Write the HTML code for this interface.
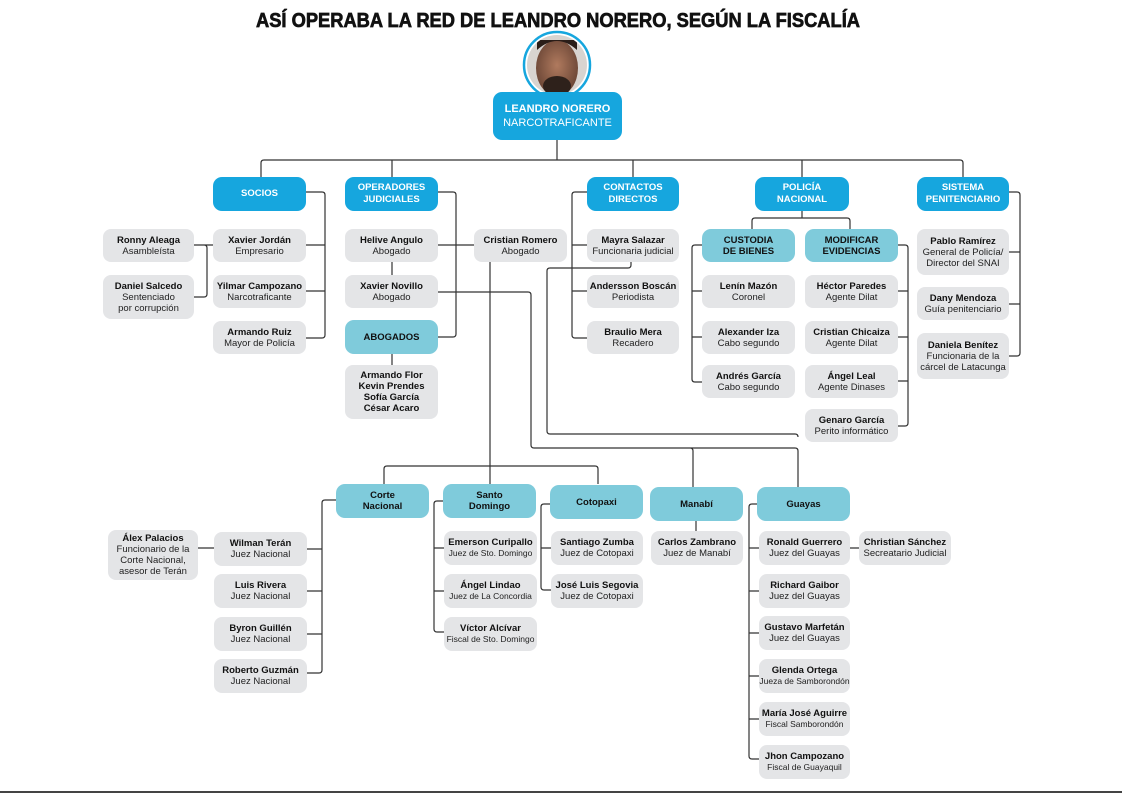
<!DOCTYPE html>
<html><head><meta charset="utf-8">
<style>
*{margin:0;padding:0;box-sizing:border-box}
body{width:1122px;height:794px;background:#fff;position:relative;overflow:hidden;font-family:"Liberation Sans",sans-serif}
.b{position:absolute;display:flex;flex-direction:column;justify-content:center;align-items:center;text-align:center;border-radius:8px;background:#e4e5e7;color:#222;font-size:9.5px;line-height:11px}
.b b{font-weight:bold;color:#111}
.h{background:#16a6de;color:#fff;font-weight:bold;font-size:9.5px;line-height:12px;border-radius:9px}
.t{background:#7fcbdb;color:#111;font-weight:bold;font-size:9.5px;line-height:11px;border-radius:9px}
svg{position:absolute;left:0;top:0}
</style></head><body>
<svg width="1122" height="794" fill="none" stroke="#333" stroke-width="1.2">
<text x="558" y="27" text-anchor="middle" textLength="604" lengthAdjust="spacingAndGlyphs" fill="#111" stroke="#111" stroke-width="0.7" font-family="Liberation Sans" font-weight="bold" font-size="20">ASÍ OPERABA LA RED DE LEANDRO NORERO, SEGÚN LA FISCALÍA</text>
<line x1="0" y1="792" x2="1122" y2="792" stroke="#444" stroke-width="2"/>
<path d="M557 140V160M261 177V163q0-3 3-3H960q3 0 3 3V177M392 160V177M633 160V177M802 160V177"/>
<path d="M306 192H322q3 0 3 3V335q0 3-3 3H306M306 245H325M306 291H325M194 245H213M204 245q3 0 3 3V294q0 3-3 3H194"/>
<path d="M438 192H453q3 0 3 3V334q0 3-3 3H438M392 262V275M392 354V365M438 245H474M438 292H528q3 0 3 3V445q0 3 3 3H795q3 0 3 3V487M690 448q3 0 3 3V487"/>
<path d="M631 262V265q0 3-3 3H550q-3 0-3 3V431q0 3 3 3H795q3 0 3 3"/>
<path d="M490 262V484"/>
<path d="M587 192H575q-3 0-3 3V335q0 3 3 3H587M572 245H587M572 291H587"/>
<path d="M802 211V218M752 229V221q0-3 3-3H847q3 0 3 3V229M702 245H695q-3 0-3 3V379q0 3 3 3H702M692 291H702M692 337H702M898 245H905q3 0 3 3V423q0 3-3 3H898M898 291H908M898 337H908M898 381H908"/>
<path d="M1009 192H1017q3 0 3 3V353q0 3-3 3H1009M1009 252H1020M1009 304H1020"/>
<path d="M384 484V469q0-3 3-3H595q3 0 3 3V484"/>
<path d="M336 500H325q-3 0-3 3V670q0 3-3 3H307M307 549H322M307 591H322M307 634H322M198 548H214"/>
<path d="M443 501H437q-3 0-3 3V629q0 3 3 3H444M434 548H444M434 591H444"/>
<path d="M550 504H544q-3 0-3 3V587q0 3 3 3H551M541 548H551"/>
<path d="M696 521V531"/>
<path d="M757 504H752q-3 0-3 3V756q0 3 3 3H759M749 548H759M749 591H759M749 633H759M749 676H759M749 719H759M850 548H859"/>
<defs><clipPath id="c"><circle cx="557" cy="65" r="30"/></clipPath><radialGradient id="g" cx="50%" cy="45%" r="55%"><stop offset="0" stop-color="#b07a5e"/><stop offset="1" stop-color="#6b4636"/></radialGradient></defs>
<circle cx="557" cy="65" r="33" fill="#fff" stroke="#16a6de" stroke-width="2.5"/>
<g clip-path="url(#c)" stroke="none"><rect x="520" y="30" width="80" height="80" fill="#d8d4d0"/><ellipse cx="557" cy="68" rx="21" ry="28" fill="url(#g)"/><path d="M537 50q20-18 40 0v-10h-40z" fill="#2a1d18"/><ellipse cx="557" cy="86" rx="14" ry="10" fill="#2e211b"/></g>
</svg>
<div class="b h" style="left:493px;top:92px;width:129px;height:48px;font-size:11px;line-height:14px"><span style="font-weight:bold">LEANDRO NORERO</span><span style="font-weight:normal">NARCOTRAFICANTE</span></div>

<div class="b h" style="left:213px;top:177px;width:93px;height:34px">SOCIOS</div>
<div class="b h" style="left:345px;top:177px;width:93px;height:34px">OPERADORES<br>JUDICIALES</div>
<div class="b h" style="left:587px;top:177px;width:92px;height:34px">CONTACTOS<br>DIRECTOS</div>
<div class="b h" style="left:755px;top:177px;width:94px;height:34px">POLICÍA<br>NACIONAL</div>
<div class="b h" style="left:917px;top:177px;width:92px;height:34px">SISTEMA<br>PENITENCIARIO</div>

<div class="b" style="left:103px;top:229px;width:91px;height:33px"><b>Ronny Aleaga</b>Asambleísta</div>
<div class="b" style="left:103px;top:275px;width:91px;height:44px"><b>Daniel Salcedo</b>Sentenciado<br>por corrupción</div>
<div class="b" style="left:213px;top:229px;width:93px;height:33px"><b>Xavier Jordán</b>Empresario</div>
<div class="b" style="left:213px;top:275px;width:93px;height:33px"><b>Yilmar Campozano</b>Narcotraficante</div>
<div class="b" style="left:213px;top:321px;width:93px;height:33px"><b>Armando Ruiz</b>Mayor de Policía</div>

<div class="b" style="left:345px;top:229px;width:93px;height:33px"><b>Helive Angulo</b>Abogado</div>
<div class="b" style="left:345px;top:275px;width:93px;height:33px"><b>Xavier Novillo</b>Abogado</div>
<div class="b t" style="left:345px;top:320px;width:93px;height:34px">ABOGADOS</div>
<div class="b" style="left:345px;top:365px;width:93px;height:54px"><b>Armando Flor<br>Kevin Prendes<br>Sofía García<br>César Acaro</b></div>
<div class="b" style="left:474px;top:229px;width:93px;height:33px"><b>Cristian Romero</b>Abogado</div>

<div class="b" style="left:587px;top:229px;width:92px;height:33px"><b>Mayra Salazar</b>Funcionaria judicial</div>
<div class="b" style="left:587px;top:275px;width:92px;height:33px"><b>Andersson Boscán</b>Periodista</div>
<div class="b" style="left:587px;top:321px;width:92px;height:33px"><b>Braulio Mera</b>Recadero</div>

<div class="b t" style="left:702px;top:229px;width:93px;height:33px">CUSTODIA<br>DE BIENES</div>
<div class="b t" style="left:805px;top:229px;width:93px;height:33px">MODIFICAR<br>EVIDENCIAS</div>
<div class="b" style="left:702px;top:275px;width:93px;height:33px"><b>Lenín Mazón</b>Coronel</div>
<div class="b" style="left:702px;top:321px;width:93px;height:33px"><b>Alexander Iza</b>Cabo segundo</div>
<div class="b" style="left:702px;top:365px;width:93px;height:33px"><b>Andrés García</b>Cabo segundo</div>
<div class="b" style="left:805px;top:275px;width:93px;height:33px"><b>Héctor Paredes</b>Agente Dilat</div>
<div class="b" style="left:805px;top:321px;width:93px;height:33px"><b>Cristian Chicaiza</b>Agente Dilat</div>
<div class="b" style="left:805px;top:365px;width:93px;height:33px"><b>Ángel Leal</b>Agente Dinases</div>
<div class="b" style="left:805px;top:409px;width:93px;height:33px"><b>Genaro García</b>Perito informático</div>

<div class="b" style="left:917px;top:229px;width:92px;height:46px"><b>Pablo Ramírez</b>General de Policía/<br>Director del SNAI</div>
<div class="b" style="left:917px;top:287px;width:92px;height:33px"><b>Dany Mendoza</b>Guía penitenciario</div>
<div class="b" style="left:917px;top:333px;width:92px;height:46px"><b>Daniela Benítez</b>Funcionaria de la<br>cárcel de Latacunga</div>

<div class="b t" style="left:336px;top:484px;width:93px;height:34px">Corte<br>Nacional</div>
<div class="b t" style="left:443px;top:484px;width:93px;height:34px">Santo<br>Domingo</div>
<div class="b t" style="left:550px;top:485px;width:93px;height:34px">Cotopaxi</div>
<div class="b t" style="left:650px;top:487px;width:93px;height:34px">Manabí</div>
<div class="b t" style="left:757px;top:487px;width:93px;height:34px">Guayas</div>

<div class="b" style="left:108px;top:530px;width:90px;height:50px"><b>Álex Palacios</b>Funcionario de la<br>Corte Nacional,<br>asesor de Terán</div>
<div class="b" style="left:214px;top:532px;width:93px;height:34px"><b>Wilman Terán</b>Juez Nacional</div>
<div class="b" style="left:214px;top:574px;width:93px;height:34px"><b>Luis Rivera</b>Juez Nacional</div>
<div class="b" style="left:214px;top:617px;width:93px;height:34px"><b>Byron Guillén</b>Juez Nacional</div>
<div class="b" style="left:214px;top:659px;width:93px;height:34px"><b>Roberto Guzmán</b>Juez Nacional</div>

<div class="b" style="left:444px;top:531px;width:93px;height:34px;font-size:8.5px"><b style="font-size:9.5px">Emerson Curipallo</b>Juez de Sto. Domingo</div>
<div class="b" style="left:444px;top:574px;width:93px;height:34px;font-size:8.5px"><b style="font-size:9.5px">Ángel Lindao</b>Juez de La Concordia</div>
<div class="b" style="left:444px;top:617px;width:93px;height:34px;font-size:8.5px"><b style="font-size:9.5px">Víctor Alcívar</b>Fiscal de Sto. Domingo</div>

<div class="b" style="left:551px;top:531px;width:92px;height:34px"><b>Santiago Zumba</b>Juez de Cotopaxi</div>
<div class="b" style="left:551px;top:574px;width:92px;height:34px"><b>José Luis Segovia</b>Juez de Cotopaxi</div>
<div class="b" style="left:651px;top:531px;width:92px;height:34px"><b>Carlos Zambrano</b>Juez de Manabí</div>

<div class="b" style="left:759px;top:531px;width:91px;height:34px"><b>Ronald Guerrero</b>Juez del Guayas</div>
<div class="b" style="left:859px;top:531px;width:92px;height:34px"><b>Christian Sánchez</b>Secreatario Judicial</div>
<div class="b" style="left:759px;top:574px;width:91px;height:34px"><b>Richard Gaibor</b>Juez del Guayas</div>
<div class="b" style="left:759px;top:616px;width:91px;height:34px"><b>Gustavo Marfetán</b>Juez del Guayas</div>
<div class="b" style="left:759px;top:659px;width:91px;height:34px;font-size:8.5px"><b style="font-size:9.5px">Glenda Ortega</b>Jueza de Samborondón</div>
<div class="b" style="left:759px;top:702px;width:91px;height:34px;font-size:8.5px"><b style="font-size:9.5px">María José Aguirre</b>Fiscal Samborondón</div>
<div class="b" style="left:759px;top:745px;width:91px;height:34px;font-size:8.5px"><b style="font-size:9.5px">Jhon Campozano</b>Fiscal de Guayaquil</div>
</body></html>
